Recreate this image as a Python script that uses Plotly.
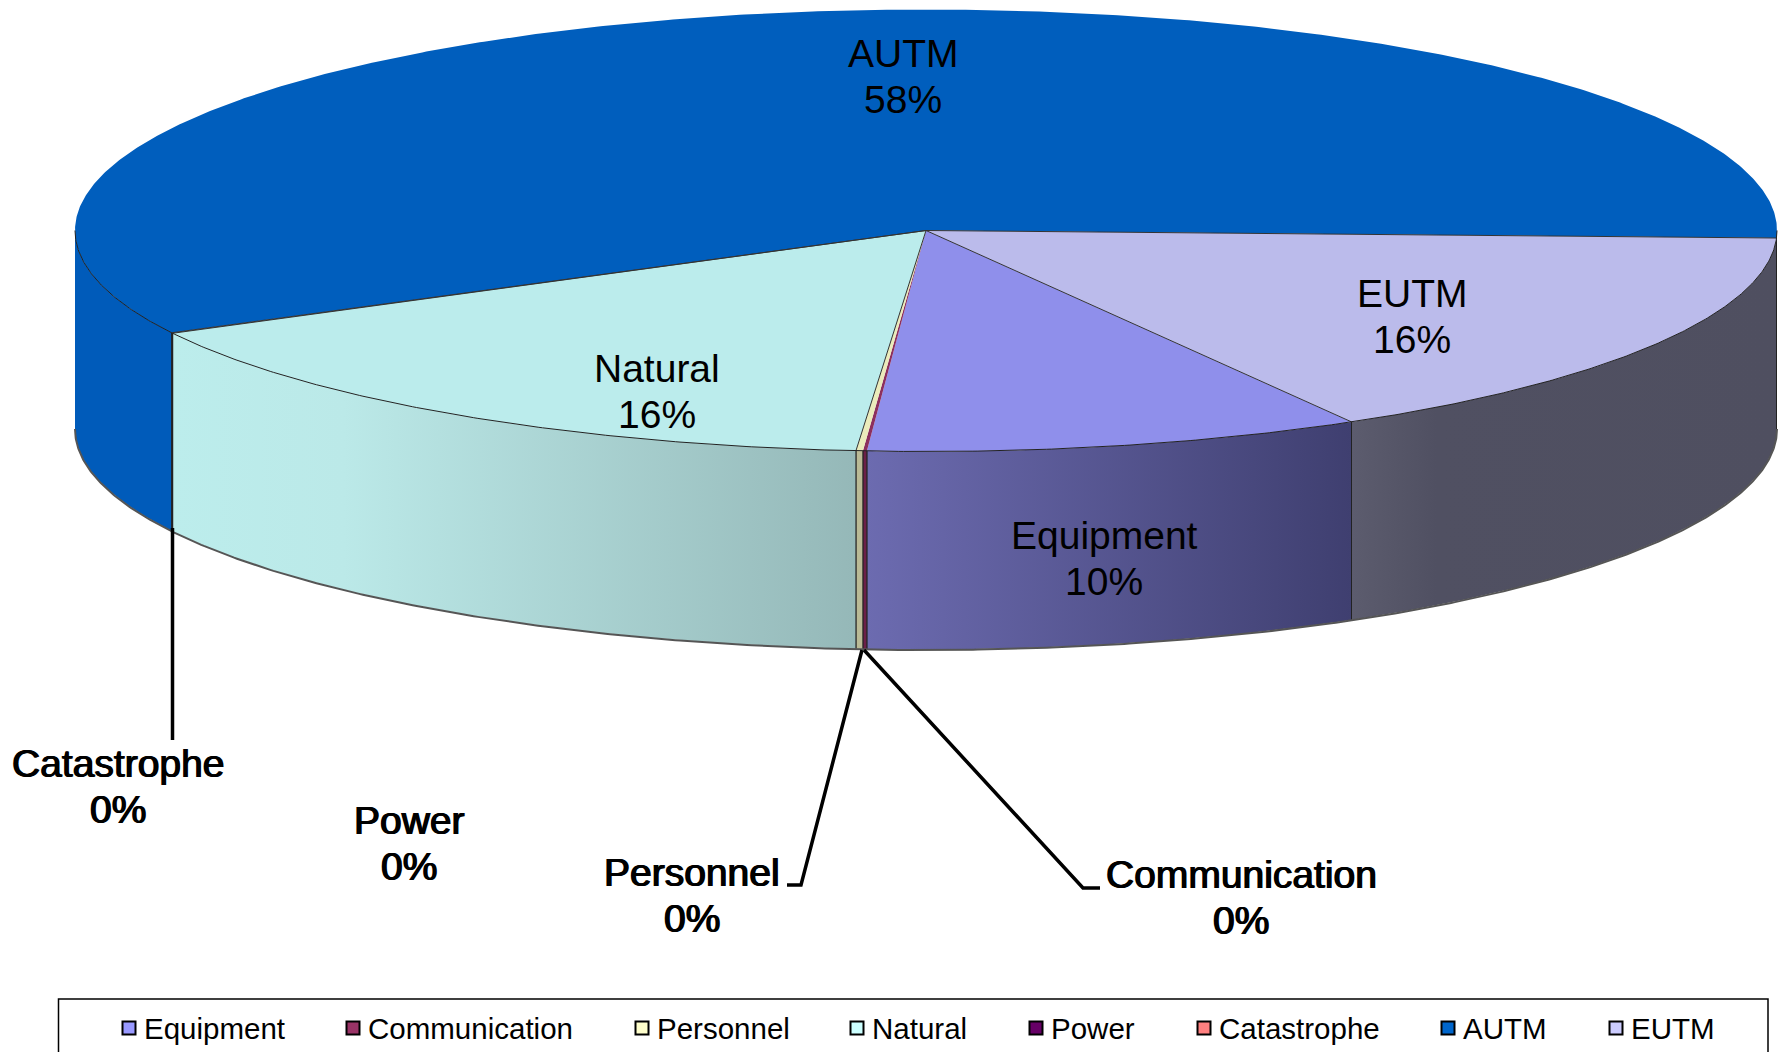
import numpy as np
import plotly.graph_objects as go

# ---- data ----
categories = ["Equipment", "Communication", "Personnel", "Natural", "Power", "Catastrophe", "AUTM", "EUTM"]
shares = [9.44, 0.075, 0.13, 15.99, 0.02, 0.02, 58.2, 16.125]
percent_labels = ["10%", "0%", "0%", "16%", "0%", "0%", "58%", "16%"]

# ---- style ----
top_colors = ["#8F8FEB", "#8C2F5E", "#EBEBBB", "#BBECEC", "#5E005E", "#EB7676", "#005EBD", "#BBBBEB"]
side_scales = [
    [[0, "#6C6BB0"], [1, "#3F3F70"]],
    [[0, "#6B2048"], [1, "#6B2048"]],
    [[0, "#BABA96"], [1, "#BABA96"]],
    [[0, "#BCEDEC"], [0.25, "#BBE9E8"], [1, "#95B8B8"]],
    [[0, "#400040"], [1, "#400040"]],
    [[0, "#A05050"], [1, "#A05050"]],
    [[0, "#005BBA"], [1, "#005BBA"]],
    [[0, "#5C5C6E"], [0.2, "#505062"], [1, "#4F4F60"]],
]
legend_colors = ["#9999FF", "#993366", "#FFFFCC", "#CCFFFF", "#660066", "#FF8080", "#0066CC", "#CCCCFF"]
FONT = "Liberation Sans, Arial, sans-serif"

# ---- layout geometry (page pixels) ----
W, H = 1778, 1052
CX, CY, RX, RY, DEPTH = 926, 230.5, 851, 221, 198
START_DEG = 150.0
legend_x = [129, 353, 642, 857, 1036, 1204, 1448, 1616]
label_pos = {
    "AUTM": (903, 76), "Natural": (657, 391), "EUTM": (1412, 316), "Equipment": (1104, 558),
    "Catastrophe": (118, 786), "Power": (409, 843), "Personnel": (692, 895), "Communication": (1241, 897),
}
LINE_GAP = 23
leaders = [
    [(172.5, 528), (172.5, 740)],
    [(862, 650), (801, 885), (787, 885)],
    [(864, 650), (1083, 888), (1100, 888)],
]


def arc(a0, a1, dy=0.0):
    t = np.radians(np.linspace(a0, a1, max(2, int(abs(a1 - a0) * 3) + 2)))
    return CX + RX * np.sin(t), CY - RY * np.cos(t) + dy


fr = np.array(shares) / sum(shares) * 360
starts = START_DEG + np.concatenate([[0], np.cumsum(fr)[:-1]])
ends = starts + fr

fig = go.Figure()

# side walls: only the part of each slice between 3 o'clock and 9 o'clock is visible
for name, a0, a1, scale in zip(categories, starts, ends, side_scales):
    pieces = []
    for off in (0, 360):
        lo, hi = max(a0, 90 + off), min(a1, 270 + off)
        if hi > lo:
            pieces.append((lo, hi))
    for lo, hi in pieces:
        xt, yt = arc(lo, hi)
        xb, yb = arc(hi, lo, DEPTH)
        fig.add_trace(go.Scatter(
            x=np.r_[xt, xb], y=np.r_[yt, yb], mode="lines", fill="toself",
            line=dict(width=0, color=scale[0][1]),
            fillgradient=dict(type="horizontal", colorscale=scale),
            name=name, hoverinfo="name", showlegend=False))
        # vertical seams between walls
        for edge in (lo, hi):
            if 91 < edge % 360 < 269:
                ex, ey = arc(edge, edge + 0.001)
                fig.add_trace(go.Scatter(
                    x=[ex[0], ex[0]], y=[ey[0], ey[0] + DEPTH], mode="lines",
                    line=dict(width=1, color="#222222"), hoverinfo="skip", showlegend=False))

# bottom rim of the wall
bx, by = arc(90, 270, DEPTH)
fig.add_trace(go.Scatter(x=bx, y=by + 0.5, mode="lines", line=dict(width=2, color="#555555"),
                         hoverinfo="skip", showlegend=False))

# top faces
for name, a0, a1, c in zip(categories, starts, ends, top_colors):
    x, y = arc(a0, a1)
    fig.add_trace(go.Scatter(
        x=np.r_[CX, x, CX], y=np.r_[CY, y, CY], mode="lines", fill="toself", fillcolor=c,
        line=dict(width=0, color=c), name=name, hoverinfo="name", showlegend=False))

# radial seams and the front rim of the top face
for a0, nm in zip(starts, categories):
    if nm in ("Communication", "Personnel", "Catastrophe"):
        continue
    x, y = arc(a0, a0 + 0.001)
    fig.add_trace(go.Scatter(x=[CX, x[0]], y=[CY, y[0]], mode="lines",
                             line=dict(width=1, color="#333333"), hoverinfo="skip", showlegend=False))
rx_, ry_ = arc(90, 270)
fig.add_trace(go.Scatter(x=rx_, y=ry_, mode="lines", line=dict(width=1, color="#222222"),
                         hoverinfo="skip", showlegend=False))

# legend swatches
for name, lx, c in zip(categories, legend_x, legend_colors):
    fig.add_trace(go.Scatter(
        x=[lx], y=[1028], mode="markers", name=name, hoverinfo="name", showlegend=False,
        marker=dict(symbol="square", size=13, color=c, line=dict(width=2, color="#000000"))))

annotations = []
for name, pct in zip(categories, percent_labels):
    lx, ly = label_pos[name]
    small = pct == "0%"
    fnt = dict(family=FONT, size=39, color="#000000",
               shadow="0.7px 0 0 #000, -0.7px 0 0 #000" if small else "none")
    for txt, yy in ((name, ly - LINE_GAP), (pct, ly + LINE_GAP)):
        annotations.append(dict(
            x=lx, y=yy, xref="x", yref="y", showarrow=False, xanchor="center", yanchor="middle",
            text=txt, align="center", font=fnt))
for name, lx in zip(categories, legend_x):
    annotations.append(dict(
        x=lx + 12.5, y=1028, xref="x", yref="y", showarrow=False, xanchor="left", yanchor="middle",
        text=name, font=dict(family=FONT, size=29.5, color="#000000")))

shapes = [dict(type="rect", xref="x", yref="y", x0=58.5, x1=1768, y0=999, y1=1080,
               line=dict(color="#000000", width=1.5), fillcolor="rgba(0,0,0,0)", layer="below")]
for pts in leaders:
    fig.add_trace(go.Scatter(x=[p[0] for p in pts], y=[p[1] for p in pts], mode="lines",
                             line=dict(color="#000000", width=3.5), hoverinfo="skip", showlegend=False))

fig.update_layout(
    width=W, height=H, margin=dict(l=0, r=0, t=0, b=0),
    paper_bgcolor="#FFFFFF", plot_bgcolor="#FFFFFF", showlegend=False,
    xaxis=dict(range=[0, W], visible=False, fixedrange=True),
    yaxis=dict(range=[H, 0], visible=False, fixedrange=True),
    annotations=annotations, shapes=shapes,
)
fig.write_html("out.html", config=dict(displayModeBar=False),
               post_script="document.body.style.margin='0';")
